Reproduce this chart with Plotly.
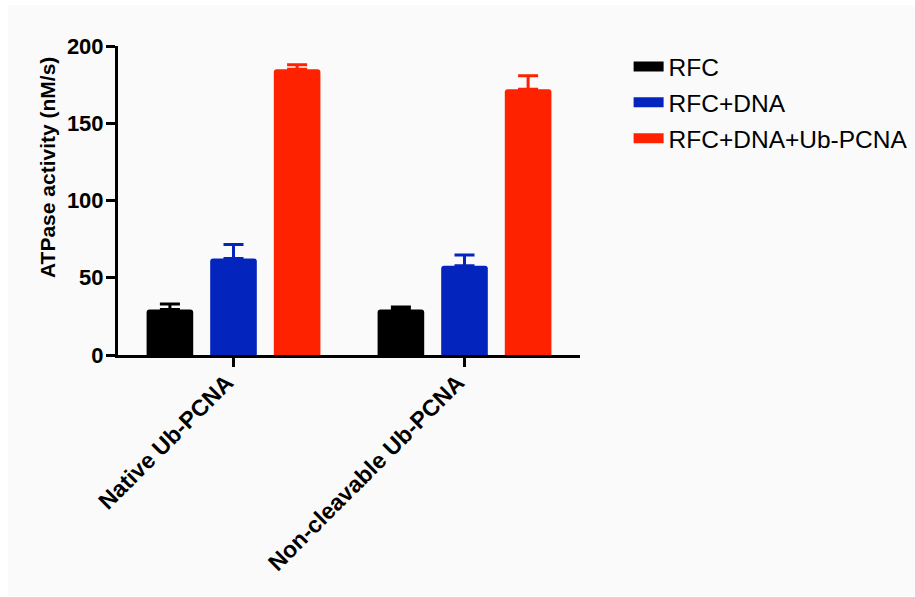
import plotly.graph_objects as go

categories = ["Native Ub-PCNA", "Non-cleavable Ub-PCNA"]
series_names = ["RFC", "RFC+DNA", "RFC+DNA+Ub-PCNA"]
rfc = [29.5, 29.5]
rfc_err = [3.5, 1.5]
rfc_dna = [62.5, 57.8]
rfc_dna_err = [9.0, 7.0]
rfc_dna_ub = [185.0, 172.0]
rfc_dna_ub_err = [2.8, 8.8]
colors = ["#000000", "#0324BD", "#FF2200"]
y_ticks = [0, 50, 100, 150, 200]
y_title = "ATPase activity (nM/s)"

values = [rfc, rfc_dna, rfc_dna_ub]
errors = [rfc_err, rfc_dna_err, rfc_dna_ub_err]

W, H = 915, 597
L, R, T, B = 118, 0, 46, 242
PLOT_R = 580
pw = W - L - R
ph = H - T - B

fig = go.Figure()
for name, v, e, c in zip(series_names, values, errors, colors):
    fig.add_trace(go.Bar(
        x=categories, y=v, name=name, marker=dict(color=c, line=dict(width=0), cornerradius=3),
        error_y=dict(type="data", array=e, arrayminus=[0] * len(e), symmetric=False,
                     color=c, thickness=3, width=10),
        showlegend=False,
    ))
for i, (name, c) in enumerate(zip(series_names, colors)):
    fig.add_trace(go.Scatter(
        x=[None], y=[None], mode="lines", name=name,
        line=dict(color=c, width=18), legendgroup=f"g{i}", showlegend=True,
    ))

fig.add_shape(type="rect", xref="paper", yref="paper", layer="below",
              x0=(8 - L) / pw, x1=1, y0=(H - 596 - B) / ph, y1=(H - 5 - B) / ph,
              fillcolor="#FAFAFA", line=dict(width=0))

fig.add_annotation(text=y_title, xref="paper", yref="paper",
                   x=(47 - L) / pw, y=1 - (168 - T) / ph, xanchor="center", yanchor="middle",
                   textangle=-90, showarrow=False,
                   font=dict(size=21, weight="bold", color="#000"))

fig.update_layout(
    width=W, height=H,
    margin=dict(l=L, r=R, t=T, b=B, pad=0, autoexpand=False),
    paper_bgcolor="#FFFFFF", plot_bgcolor="rgba(0,0,0,0)",
    barmode="group", bargap=0.174, bargroupgap=0.267,
    font=dict(family="Liberation Sans, Arial", color="#000000"),
    legend=dict(x=0.997, y=1 - (44 - T) / ph, xanchor="right", yanchor="top",
                font=dict(size=24.5), tracegroupgap=1, bgcolor="rgba(0,0,0,0)"),
    xaxis=dict(domain=[0, (PLOT_R - L) / pw], range=[-0.5, 1.5], automargin=False,
               showline=True, linecolor="#000", linewidth=3,
               ticks="outside", ticklen=9, tickwidth=2.5, tickcolor="#000",
               tickangle=-45, tickfont=dict(size=23, weight="bold"),
               ticklabelstandoff=-7, ticklabelshift=-7,
               showgrid=False, zeroline=False),
    yaxis=dict(range=[0, 200], tickvals=y_ticks, automargin=False,
               showline=True, linecolor="#000", linewidth=3,
               ticks="outside", ticklen=9, tickwidth=2.5, tickcolor="#000",
               tickfont=dict(size=22, weight="bold"), ticklabelstandoff=-2,
               showgrid=False, zeroline=False),
)

fig.write_html("out.html")
